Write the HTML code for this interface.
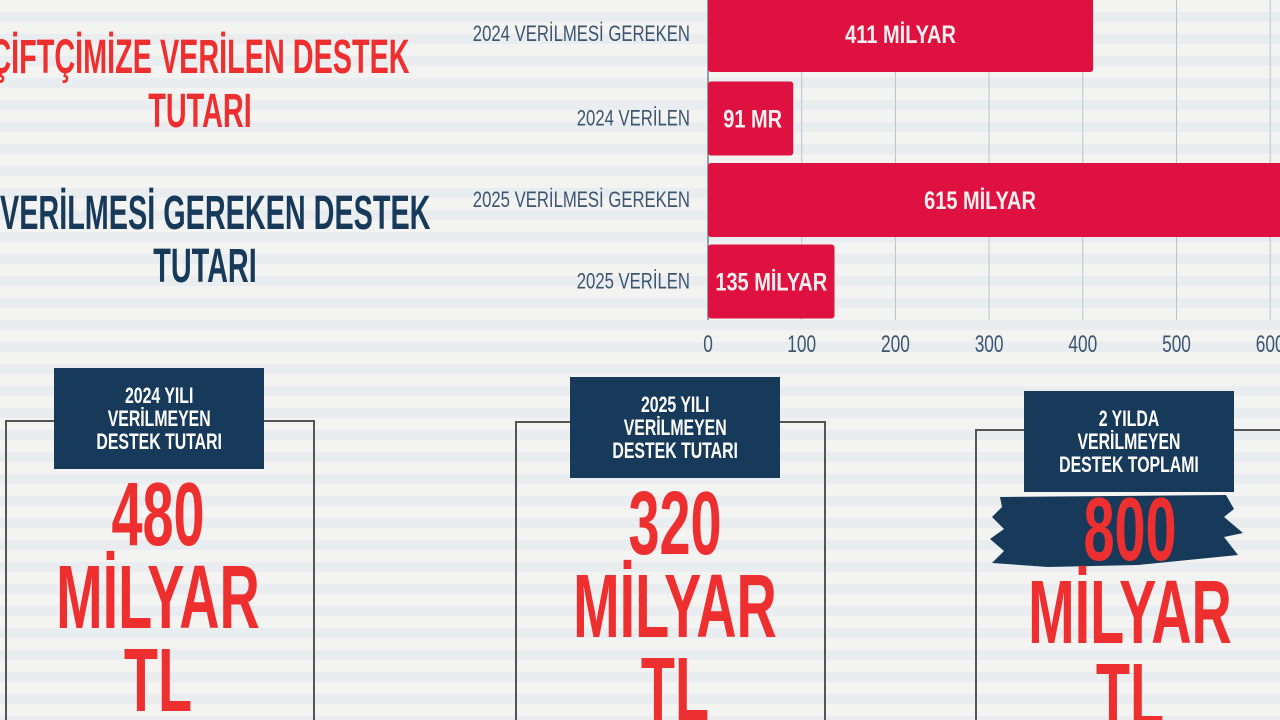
<!DOCTYPE html>
<html><head><meta charset="utf-8"><style>
html,body{margin:0;padding:0;width:1280px;height:720px;overflow:hidden}
body{position:relative;font-family:"Liberation Sans",sans-serif;font-weight:bold;
background:repeating-linear-gradient(180deg,#f3f3f1 0px,#f3f3f1 12px,#e9edf0 12px,#e9edf0 22px)}
.t{position:absolute;text-align:center;white-space:nowrap;line-height:1;transform:scaleX(0.6);transform-origin:center}
.red{color:#ee2f30}.navy{color:#17395a}
.box{position:absolute;border:2px solid #555;border-bottom:none}
.lab{position:absolute;background:#17395a;color:#fff;text-align:center;display:flex;align-items:center;justify-content:center}
.lab span{display:block;font-size:22px;line-height:23px;transform:scaleX(0.72);white-space:nowrap}
.big{position:absolute;text-align:center;color:#ee2f30;font-size:90px;line-height:83px;width:400px;height:248px;overflow:hidden;transform:scaleX(0.62);transform-origin:center;white-space:nowrap}
</style></head><body>
<div class="t red" style="left:-150px;width:700px;top:34px;font-size:48px">ÇİFTÇİMİZE VERİLEN DESTEK</div>
<div class="t red" style="left:0;width:400px;top:88px;font-size:48px">TUTARI</div>
<div class="t navy" style="left:-140px;width:700px;top:190px;font-size:48px">VERİLMESİ GEREKEN DESTEK</div>
<div class="t navy" style="left:5px;width:400px;top:243px;font-size:48px">TUTARI</div>

<svg id="chart" width="1280" height="370" style="position:absolute;left:0;top:0"></svg>

<div class="box" style="left:5px;top:420px;width:306px;height:300px"></div>
<div class="lab" style="left:54px;top:368px;width:210px;height:101px"><span>2024 YILI<br>VERİLMEYEN<br>DESTEK TUTARI</span></div>
<div class="big" style="left:-42px;top:474px">480<br>MİLYAR<br>TL</div>

<div class="box" style="left:515px;top:421px;width:307px;height:299px"></div>
<div class="lab" style="left:570px;top:377px;width:210px;height:101px"><span>2025 YILI<br>VERİLMEYEN<br>DESTEK TUTARI</span></div>
<div class="big" style="left:475px;top:483px">320<br>MİLYAR<br>TL</div>

<div class="box" style="left:975px;top:429px;width:320px;height:291px"></div>
<svg width="260" height="80" style="position:absolute;left:988px;top:493px"><path d="M12 4 L238 2 L246 16 L236 24 L255 40 L236 44 L250 62 L150 72 L60 74 L4 70 L16 58 L2 46 L16 36 L4 24 L14 14 Z" fill="#17395a"/></svg>
<div class="lab" style="left:1024px;top:391px;width:210px;height:101px"><span>2 YILDA<br>VERİLMEYEN<br>DESTEK TOPLAMI</span></div>
<div class="big" style="left:930px;top:489px">800<br>MİLYAR<br>TL</div>

<script>
const categories=["2024 VERİLMESİ GEREKEN","2024 VERİLEN","2025 VERİLMESİ GEREKEN","2025 VERİLEN"];
const values=[411,91,615,135];
const valueLabels=["411 MİLYAR","91 MR","615 MİLYAR","135 MİLYAR"];
const ticks=[0,100,200,300,400,500,600];
const svg=document.getElementById('chart');
const NS='http://www.w3.org/2000/svg';
const x0=708,pxPer=0.937;
const xs=v=>x0+v*pxPer;
const ys=i=>i*81.5;
const bh=74;
function mk(t,a){const e=document.createElementNS(NS,t);for(const k in a)e.setAttribute(k,a[k]);svg.appendChild(e);return e;}
function txt(x,y,anchor,size,fill,sx){return mk('text',{x:0,y:0,transform:'translate('+x+','+y+') scale('+sx+',1)','text-anchor':anchor,'font-size':size,fill:fill,'font-weight':'bold','font-family':'Liberation Sans, sans-serif'});}
ticks.forEach(t=>{
 const l=mk('line',{x1:xs(t),x2:xs(t),y1:0,y2:320,stroke:'#b8c4cc','stroke-width':1});
 
 
 const tx=txt(xs(t),352,'middle',24,'#3b5570',0.72);
 tx.setAttribute('font-weight','normal');
 tx.textContent=t;
 
 
});
mk('line',{x1:x0,x2:x0,y1:0,y2:320,stroke:'#6e8597','stroke-width':1.5});
categories.forEach((c,i)=>{
 const y=ys(i)-(i==0?10:0);
 const h=i==0?bh+8:bh;
 const r=mk('rect',{x:x0,y:y,width:xs(values[i])-x0,height:h,rx:3,fill:'#de1140'});
 
 
 const cl=txt(690,ys(i)+bh/2+(i==0?-3:0)+7,'end',22,'#3b5570',0.76);
 cl.setAttribute('font-weight','normal');
 cl.textContent=c;
 
 
 const vx=i==2?980:(x0+xs(values[i]))/2+(i==1?2:0);
 const vl=txt(vx,ys(i)+bh/2+(i==0?-3:0)+9,'middle',25,'#f5f0f0',0.8);
 vl.textContent=valueLabels[i];
 
 
});
</script>
</body></html>
